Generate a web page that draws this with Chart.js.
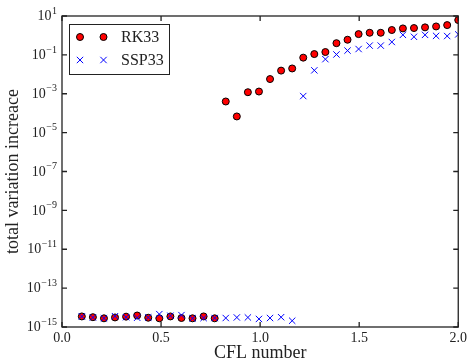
<!DOCTYPE html>
<html>
<head>
<meta charset="utf-8">
<script src="https://cdn.jsdelivr.net/npm/chart.js@4/dist/chart.umd.min.js"></script>
<style>
html,body{margin:0;padding:0;background:#fff;}
</style>
</head>
<body>
<canvas id="my_chart" width="470" height="361"></canvas>
<script>
// CFL numbers the runs were made at
const cfl = [0.1, 0.1559, 0.2118, 0.2676, 0.3235, 0.3794, 0.4353, 0.4912, 0.5471, 0.6029,
  0.6588, 0.7147, 0.7706, 0.8265, 0.8824, 0.9382, 0.9941, 1.05, 1.1059, 1.1618,
  1.2176, 1.2735, 1.3294, 1.3853, 1.4412, 1.4971, 1.5529, 1.6088, 1.6647, 1.7206,
  1.7765, 1.8324, 1.8882, 1.9441, 2.0];
// total variation increase per scheme
const rk33 = [3.5e-15, 3.2e-15, 2.8e-15, 3.1e-15, 3.4e-15, 3.9e-15, 3.0e-15, 2.8e-15, 3.5e-15, 2.9e-15,
  2.8e-15, 3.5e-15, 2.8e-15, 4.0e-4, 6.8e-5, 1.2e-3, 1.3e-3, 5.7e-3, 0.0155, 0.02,
  0.072, 0.11, 0.14, 0.40, 0.6, 1.17, 1.37, 1.37, 1.9, 2.3,
  2.4, 2.6, 2.9, 3.4, 6.2];
const ssp33 = [3.5e-15, 3.1e-15, 2.8e-15, 3.6e-15, 3.2e-15, 3.0e-15, 3.1e-15, 4.6e-15, 3.8e-15, 4.1e-15,
  2.8e-15, 2.9e-15, 2.9e-15, 2.9e-15, 3.1e-15, 3.1e-15, 2.6e-15, 2.9e-15, 3.2e-15, 2.1e-15,
  7.6e-4, 0.016, 0.06, 0.105, 0.166, 0.2, 0.3, 0.3, 0.46, 1.07,
  0.85, 1.07, 0.95, 0.93, 1.13];
const xTicks = [0, 0.5, 1.0, 1.5, 2.0];
const yExps = [1, -1, -3, -5, -7, -9, -11, -13, -15];

const serif = '"Liberation Serif", "DejaVu Serif", serif';

const pts = ys => cfl.map((c, i) => ({x: c, y: ys[i]}));

// box, inward ticks, 10^n labels and the legend
const frame = {
  id: 'frame',
  afterDraw(chart) {
    const ctx = chart.ctx, a = chart.chartArea;
    const x = chart.scales.x, y = chart.scales.y;
    ctx.save();
    ctx.strokeStyle = '#222';
    ctx.lineWidth = 1.3;
    ctx.strokeRect(a.left, a.top, a.right - a.left, a.bottom - a.top);
    ctx.beginPath();
    xTicks.forEach(v => {
      const px = x.getPixelForValue(v);
      ctx.moveTo(px, a.bottom); ctx.lineTo(px, a.bottom - 5);
      ctx.moveTo(px, a.top); ctx.lineTo(px, a.top + 5);
    });
    yExps.forEach(e => {
      const py = y.getPixelForValue(Math.pow(10, e));
      ctx.moveTo(a.left, py); ctx.lineTo(a.left + 5, py);
      ctx.moveTo(a.right, py); ctx.lineTo(a.right - 5, py);
    });
    ctx.stroke();

    ctx.fillStyle = '#222';
    ctx.textBaseline = 'middle';
    ctx.textAlign = 'right';
    yExps.forEach(e => {
      const py = y.getPixelForValue(Math.pow(10, e));
      const ex = (e < 0 ? '\u2212' : '') + Math.abs(e);
      ctx.font = '10px ' + serif;
      const w = ctx.measureText(ex).width;
      ctx.fillText(ex, a.left - 5, py - 5);
      ctx.font = '14px ' + serif;
      ctx.fillText('10', a.left - 5 - w - 0.5, py + 0.5);
    });

    // legend
    ctx.fillStyle = '#fff';
    ctx.fillRect(69.5, 24.5, 100, 50);
    ctx.strokeStyle = '#222';
    ctx.lineWidth = 1;
    ctx.strokeRect(69.5, 24.5, 100, 50);
    const items = [
      {label: 'RK33', y: 37, style: 'circle', r: 3.5, fill: '#ff0000', stroke: '#000'},
      {label: 'SSP33', y: 60, style: 'crossRot', r: 4.5, fill: '#0000ff', stroke: '#0000ff'}
    ];
    items.forEach(it => {
      [80, 103.5].forEach(mx => {
        ctx.fillStyle = it.fill;
        ctx.strokeStyle = it.stroke;
        ctx.lineWidth = 1;
        Chart.helpers.drawPoint(ctx, {pointStyle: it.style, radius: it.r, rotation: 0, borderWidth: 1}, mx, it.y);
      });
      ctx.fillStyle = '#222';
      ctx.textAlign = 'left';
      ctx.font = '16px ' + serif;
      ctx.fillText(it.label, 121, it.y + 1);
    });
    ctx.restore();
  }
};

const chart = new Chart(document.getElementById('my_chart'), {
  type: 'scatter',
  data: {
    datasets: [
      {label: 'RK33', data: pts(rk33), pointStyle: 'circle', pointRadius: 3.5,
       backgroundColor: '#ff0000', borderColor: '#000', borderWidth: 1, order: 2, clip: 0},
      {label: 'SSP33', data: pts(ssp33), pointStyle: 'crossRot', pointRadius: 4.5,
       backgroundColor: '#0000ff', borderColor: '#0000ff', borderWidth: 1, order: 1, clip: 0}
    ]
  },
  options: {
    responsive: false,
    animation: false,
    layout: {padding: {top: 16, right: 9, left: 0, bottom: 0}},
    plugins: {legend: {display: false}, tooltip: {enabled: false}},
    scales: {
      x: {
        type: 'linear', min: 0, max: 2,
        afterBuildTicks: s => { s.ticks = xTicks.map(v => ({value: v})); },
        afterFit: s => { s.height = 34; },
        grid: {display: false, drawTicks: false},
        border: {display: false},
        ticks: {color: '#222', padding: 3, font: {family: serif, size: 14},
          callback: v => v.toFixed(1)},
        title: {display: true, text: 'CFL number', color: '#222',
          font: {family: serif, size: 18, lineHeight: 1}, padding: {top: 0, bottom: -1}}
      },
      y: {
        type: 'logarithmic', min: 1e-15, max: 10,
        afterBuildTicks: s => { s.ticks = yExps.map(e => ({value: Math.pow(10, e)})); },
        afterFit: s => { s.width = 62; },
        grid: {display: false, drawTicks: false},
        border: {display: false},
        ticks: {display: false},
        title: {display: true, text: 'total variation increace', color: '#222',
          font: {family: serif, size: 18, lineHeight: 1}, padding: {top: 4, bottom: 0}}
      }
    }
  },
  plugins: [frame]
});
</script>
</body>
</html>
